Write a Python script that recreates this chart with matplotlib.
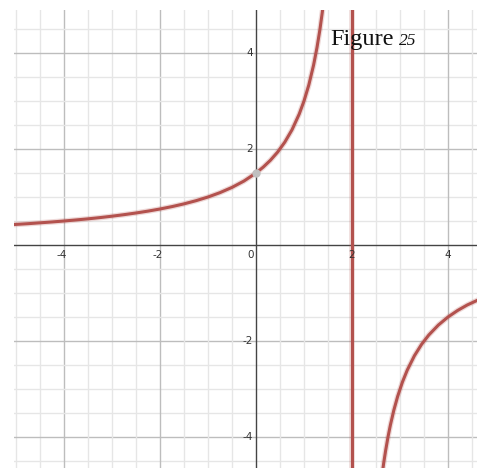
import matplotlib
matplotlib.use("Agg")
import matplotlib.pyplot as plt
import numpy as np

# Values
left_x = [-5.1, -4.75, -4.5, -4.25, -4.0, -3.75, -3.5, -3.25, -3.0, -2.75, -2.5, -2.25,
          -2.0, -1.75, -1.5, -1.25, -1.0, -0.75, -0.5, -0.25, 0.0, 0.15, 0.3, 0.45,
          0.6, 0.75, 0.9, 1.0, 1.1, 1.2, 1.27, 1.33, 1.38, 1.42]
left_y = [0.423, 0.444, 0.462, 0.480, 0.500, 0.522, 0.545, 0.571, 0.600, 0.632, 0.667, 0.706,
          0.750, 0.800, 0.857, 0.923, 1.000, 1.091, 1.200, 1.333, 1.500, 1.622, 1.765, 1.935,
          2.143, 2.400, 2.727, 3.000, 3.333, 3.750, 4.110, 4.478, 4.839, 5.172]
right_x = [2.62, 2.66, 2.7, 2.75, 2.8, 2.87, 2.95, 3.05, 3.15, 3.3, 3.45, 3.6, 3.8,
           4.0, 4.2, 4.4, 4.7]
right_y = [-4.839, -4.545, -4.286, -4.000, -3.750, -3.448, -3.158, -2.857, -2.609, -2.308,
           -2.069, -1.875, -1.667, -1.500, -1.364, -1.250, -1.111]
asymptote_x = 2
marked_point = (0, 1.5)
tick_vals = [-4, -2, 0, 2, 4]
title_main = "Figure"
title_num = "25"

W, H = 479, 468
fig = plt.figure(figsize=(W / 100, H / 100), dpi=100)
ax = fig.add_axes([14 / W, 0, (477 - 14) / W, (H - 10) / H])
ax.set_xlim((14 - 256) / 48, (477 - 256) / 48)
ax.set_ylim((245 - 468) / 48, (245 - 10) / 48)
for s in ax.spines.values():
    s.set_visible(False)
ax.set_xticks([])
ax.set_yticks([])

minor = np.arange(-6, 6.01, 0.5)
for v in minor:
    major = abs(v / 2 - round(v / 2)) < 1e-9
    col = "#bdbdbd" if major else "#e6e6e6"
    if abs(v) < 1e-9:
        continue
    ax.axvline(v, color=col, lw=1.0, zorder=0)
    ax.axhline(v, color=col, lw=1.0, zorder=0)
ax.axvline(0, color="#444444", lw=1.0, zorder=1)
ax.axhline(0, color="#444444", lw=1.0, zorder=1)

curve_col = "#b3524e"
for xs, ys in [(left_x, left_y), (right_x, right_y)]:
    ax.plot(xs, ys, color=curve_col, lw=4.0, alpha=0.22, solid_capstyle="round", zorder=2)
    ax.plot(xs, ys, color=curve_col, lw=2.2, solid_capstyle="round", zorder=3)
ax.axvline(asymptote_x, color=curve_col, lw=4.0, alpha=0.22, zorder=2)
ax.axvline(asymptote_x, color=curve_col, lw=2.2, zorder=3)
ax.plot([marked_point[0]], [marked_point[1]], "o", color="#c0c0c0", ms=5, zorder=4)

lab_kw = dict(fontsize=7.5, color="#333333", family="DejaVu Sans")
for t in tick_vals:
    if t == 0:
        ax.text(-0.12, -0.1, "0", ha="center", va="top", **lab_kw)
        continue
    ax.text(t - (0.05 if t < 0 else 0), -0.1, f"{t}", ha="center", va="top", **lab_kw)
    ax.text(-0.06, t, f"{t}", ha="right", va="center", **lab_kw)

ax.text(1.54, 4.17, title_main, fontsize=17.5, family="Liberation Serif",
        ha="left", va="baseline", color="#111111", zorder=5)
ax.text(2.98, 4.17, title_num, fontsize=12.5, family="Liberation Serif", style="italic",
        ha="left", va="baseline", color="#111111", zorder=5)

fig.savefig("out.png", dpi=100, facecolor="white")
